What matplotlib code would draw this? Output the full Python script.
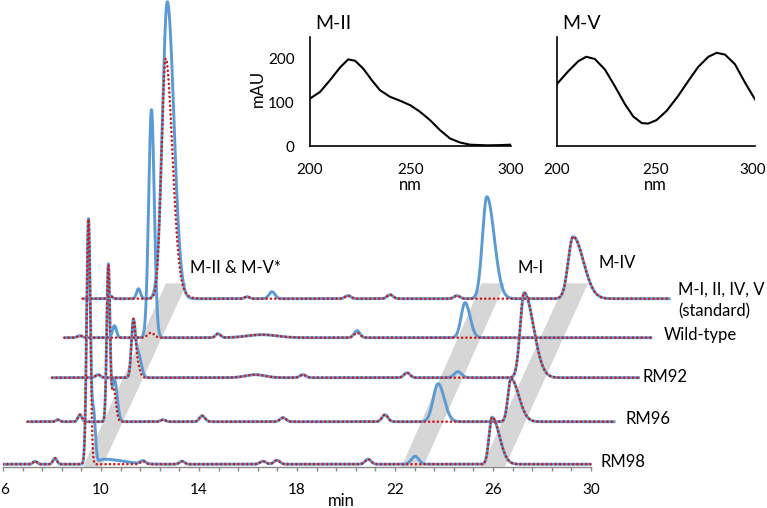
import numpy as np
import matplotlib
matplotlib.use('Agg')
import matplotlib.pyplot as plt
from matplotlib.patches import Polygon

plt.rcParams['font.family'] = ['Lato', 'DejaVu Sans']

# ---------------- data ----------------
# trace labels (bottom to top) and waterfall offsets
trace_labels = ['RM98', 'RM96', 'RM92', 'Wild-type', 'M-I, II, IV, V']
trace_dx = [0.0, 1.0, 2.0, 2.5, 3.25]        # min
trace_dy = [2.5, 45.0, 89.0, 129.0, 168.0]   # signal units
run_start, run_end = 6.0, 30.0

# peak tables: (retention time [min], height, sigma left, sigma right)
common_peaks = [
    [(7.31, 3, .08, .08), (8.12, 6, .08, .08), (9.49, 245, .075, .075), (11.71, 3, .1, .1),
     (13.31, 3, .1, .1), (16.61, 3, .12, .12), (17.18, 4, .12, .12), (20.90, 5, .12, .12),
     (25.96, 47, .12, .30)],
    [(7.24, 2, .08, .08), (8.14, 7, .08, .08), (9.30, 156, .065, .065), (11.53, 2, .1, .1),
     (13.12, 6, .1, .12), (16.43, 4, .12, .12), (20.59, 7, .12, .12), (25.73, 43, .12, .32)],
    [(7.88, 3, .1, .1), (9.32, 55, .08, .08), (14.29, 3, .4, .4), (16.24, 3, .12, .12),
     (20.49, 5, .12, .12), (25.27, 85, .16, .38)],
    [(6.64, 2, .1, .1), (12.28, 4, .1, .1), (14.07, 3, .6, .6), (17.95, 5, .12, .12)],
    [(7.12, 3, .08, .08), (12.71, 2, .1, .1), (16.83, 3, .12, .12), (18.55, 4, .12, .12),
     (21.28, 3, .12, .12), (26.02, 62, .2, .42)],
]
blue_only_peaks = [
    [(9.70, 50, .07, .07), (10.10, 5, .2, .8), (22.82, 8, .15, .15)],
    [(9.55, 42, .1, .11), (22.76, 38, .2, .25)],
    [(9.52, 24, .1, .12), (22.57, 6, .15, .15)],
    [(8.05, 12, .08, .08), (9.56, 228, .115, .115), (17.95, 2, .12, .12), (22.36, 35, .16, .2)],
    [(8.28, 10, .08, .08), (9.456, 297, .2, .27), (13.73, 7, .12, .12), (22.50, 102, .18, .30)],
]
red_only_peaks = [
    [],
    [(9.52, 32, .08, .09)],
    [(9.48, 14, .1, .1)],
    [(9.54, 5, .13, .13)],
    [(9.39, 240, .17, .27), (9.9, 6, .2, .3)],
]

# gray bands marking M-II/M-V, M-I and M-IV: (bottom left, bottom right, top left, top right) in min
band_x = [(9.27, 10.04, 12.65, 13.51), (22.27, 23.15, 25.54, 26.49), (25.54, 26.49, 28.94, 29.88)]
band_y = (0.0, 183.4)

main_ticks = [6, 10, 14, 18, 22, 26, 30]
nm_ticks = [200, 250, 300]
mau_ticks = [0, 100, 200]

# UV spectra of the insets
mii_nm = [200, 205, 210, 215, 219, 222.4, 226.5, 230.7, 234.8, 239.8, 244.8, 249.8, 254.7,
          259.7, 264.7, 269.7, 274.6, 279.6, 288, 294.5, 300]
mii_mau = [108, 123, 150, 179, 197, 194, 176, 150, 127, 112, 103, 93, 78, 59, 36, 17, 8, 3,
           1.5, 2, 3]
mv_nm = [200, 205.9, 211, 215, 219.3, 224.4, 229.4, 234.5, 238.7, 243, 246.2, 250.4, 255.5,
         261.3, 266.4, 271.4, 276.5, 280.7, 284.9, 289.9, 295, 300]
mv_mau = [140, 170, 193, 203, 198, 174, 136, 95, 67, 52, 51, 59, 80, 114, 148, 180, 203, 212,
          208, 186, 144, 106]

# ---------------- figure ----------------
W, H = 767, 508
fig = plt.figure(figsize=(W / 100, H / 100), dpi=100)

px_per_min = 24.5
x0_px = 3.0
axis_px = 466.7
ax = fig.add_axes([x0_px / W, (H - axis_px) / H, 1 - x0_px / W, axis_px / H])
ax.set_xlim(6, 6 + (W - x0_px) / px_per_min)
ax.set_ylim(0, axis_px)
ax.set_facecolor('none')
for s in ['left', 'right', 'top']:
    ax.spines[s].set_visible(False)
ax.spines['bottom'].set_bounds(6, 30)
ax.spines['bottom'].set_color('#8a8a8a')
ax.spines['bottom'].set_linewidth(1.0)
ax.set_yticks([])
ax.set_xticks(main_ticks)
ax.set_xticklabels([])
ax.set_xticks(np.arange(6, 30.01, 0.8), minor=True)
ax.tick_params(axis='x', which='both', direction='out', length=3.2, color='#8a8a8a',
               width=1.0)
for v in main_ticks:
    if v == main_ticks[0]:
        ax.annotate(str(v), xy=(v, 0), xycoords=('data', 'axes fraction'),
                    xytext=(-2.3, -12), textcoords='offset points', ha='left', va='top',
                    fontsize=11)
    else:
        ax.annotate(str(v), xy=(v, 0), xycoords=('data', 'axes fraction'),
                    xytext=(0, -12), textcoords='offset points', ha='center', va='top',
                    fontsize=11)

BLUE = '#5B9BD5'
RED = '#CC1A1A'

for bx in band_x:
    poly = Polygon([(bx[0], band_y[0]), (bx[1], band_y[0]), (bx[3], band_y[1]), (bx[2], band_y[1])],
                   closed=True, facecolor='#d6d6d6', edgecolor='none', zorder=1)
    ax.add_patch(poly)

t = np.linspace(run_start, run_end, 8000)


def build(peaks):
    y = np.zeros_like(t)
    for c, h, sl, sr in peaks:
        s = np.where(t < c, sl, sr)
        y += h * np.exp(-0.5 * ((t - c) / s) ** 2)
    return y


for i in range(len(trace_labels)):
    yb = build(common_peaks[i] + blue_only_peaks[i]) + trace_dy[i]
    yr = build(common_peaks[i] + red_only_peaks[i]) + trace_dy[i]
    xs = t + trace_dx[i]
    ax.plot(xs, yb, color=BLUE, lw=2.1, zorder=3 + i * 2, solid_capstyle='butt')
    ax.plot(xs, yr, color=RED, lw=1.9, ls=(0, (0.01, 1.65)), dash_capstyle='round',
            zorder=4 + i * 2)

# trace labels (x in min, y baseline)
lab_pos = [(30.37, 0.0), (31.39, 42.7), (32.09, 84.4), (32.95, 126.7), (33.55, 171.7)]
for lab, (lx, ly) in zip(trace_labels, lab_pos):
    ax.text(lx, ly, lab, fontsize=12, va='baseline', ha='left')
ax.text(33.55, 150.7, '(standard)', fontsize=12, va='baseline', ha='left')

ax.text(13.63, 193.4, 'M-II & M-V*', fontsize=12, va='baseline', ha='left')
ax.text(26.98, 193.4, 'M-I', fontsize=12, va='baseline', ha='left')
ax.text(30.29, 198.4, 'M-IV', fontsize=12, va='baseline', ha='left')

fig.text(341 / W, 2.5 / H, 'min', fontsize=12, ha='center', va='baseline')

# ---------------- insets ----------------
ins_bottom = (H - 146) / H
ins_h = 109 / H
ax1 = fig.add_axes([310 / W, ins_bottom, 201 / W, ins_h])
ax2 = fig.add_axes([556.5 / W, ins_bottom, 198.5 / W, ins_h])
for a, nm, mau, title in [(ax1, mii_nm, mii_mau, 'M-II'), (ax2, mv_nm, mv_mau, 'M-V')]:
    a.plot(nm, mau, color='black', lw=1.5)
    a.set_xlim(200, 300)
    a.set_ylim(0, 248)
    a.set_facecolor('none')
    a.spines['right'].set_visible(False)
    a.spines['top'].set_visible(False)
    for s in ['left', 'bottom']:
        a.spines[s].set_linewidth(1.2)
        a.spines[s].set_color('black')
    a.set_xticks(nm_ticks)
    a.set_xticklabels([])
    a.tick_params(length=0, labelsize=11, pad=11)
    for v in nm_ticks:
        if a is ax2 and v == nm_ticks[-1]:
            a.annotate(str(v), xy=(v, 0), xycoords=('data', 'axes fraction'),
                       xytext=(8.0, -12), textcoords='offset points', ha='right', va='top',
                       fontsize=11)
        else:
            a.annotate(str(v), xy=(v, 0), xycoords=('data', 'axes fraction'),
                       xytext=(0, -12), textcoords='offset points', ha='center', va='top',
                       fontsize=11)
    a.text(0.5, -0.404, 'nm', transform=a.transAxes, fontsize=12, ha='center', va='baseline')
    a.text(0.027, 1.071, title, transform=a.transAxes, fontsize=14, ha='left', va='baseline')

ax1.set_yticks(mau_ticks)
ax2.set_yticks([])
ax1.text(-0.259, 0.532, 'mAU', transform=ax1.transAxes, fontsize=12, rotation=90,
         ha='center', va='center')

fig.savefig('out.png', dpi=100)
